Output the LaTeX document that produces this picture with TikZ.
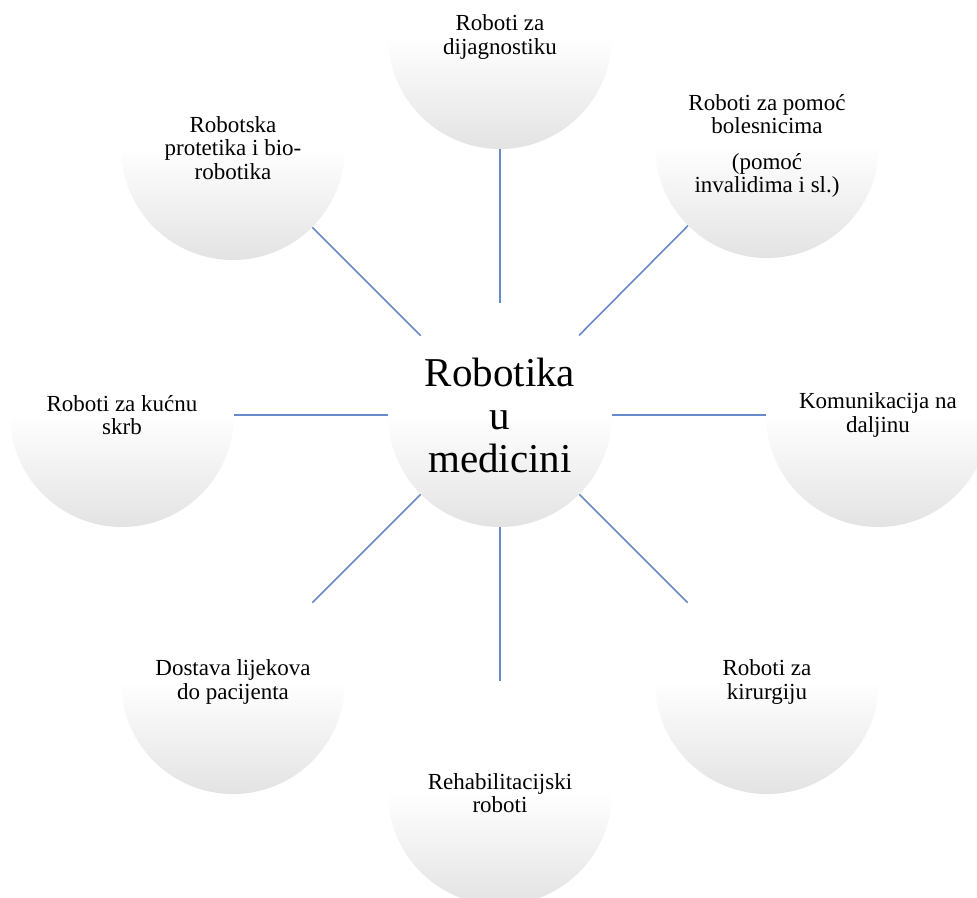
\documentclass[tikz,border=0pt]{standalone}
\usepackage{fontspec}
\setmainfont{Liberation Serif}
\definecolor{connblue}{RGB}{105,138,200}
\tikzset{
  bubble/.style={circle, minimum size=224pt, inner sep=0pt, align=center,
    top color=white, bottom color=black!11, middle color=white,
    font=\fontsize{23}{23.5}\selectfont},
  hub/.style={bubble, font=\fontsize{41}{43}\selectfont},
  conn/.style={draw=connblue, line width=1.6pt}
}
\begin{document}
\begin{tikzpicture}[x=1pt,y=-1pt]
\useasboundingbox (0,0) rectangle (977,897);
\clip (0,0) rectangle (977,897);
\node[hub] (c) at (500,415) {Robotika\\u\\medicini};
\node[bubble] (t) at (500,37) {Roboti za\\dijagnostiku};
\node[bubble] (ur) at (767,146) {Roboti za pomoć\\bolesnicima\\[12pt](pomoć\hspace*{26pt}\\invalidima i sl.)};
\node[bubble] (r) at (878,415) {Komunikacija na\\daljinu};
\node[bubble] (lr) at (767,682) {Roboti za\\kirurgiju};
\node[bubble] (b) at (500,793) {Rehabilitacijski\\roboti};
\node[bubble] (ll) at (233,682) {Dostava lijekova\\do pacijenta};
\node[bubble] (l) at (122,415) {Roboti za kućnu\\skrb};
\node[bubble] (ul) at (233,148) {Robotska\\protetika i bio-\\robotika};
\foreach \s in {t,ur,r,lr,b,ll,l,ul}{
  \draw[conn] (c) -- (\s);
}
\end{tikzpicture}
\end{document}
